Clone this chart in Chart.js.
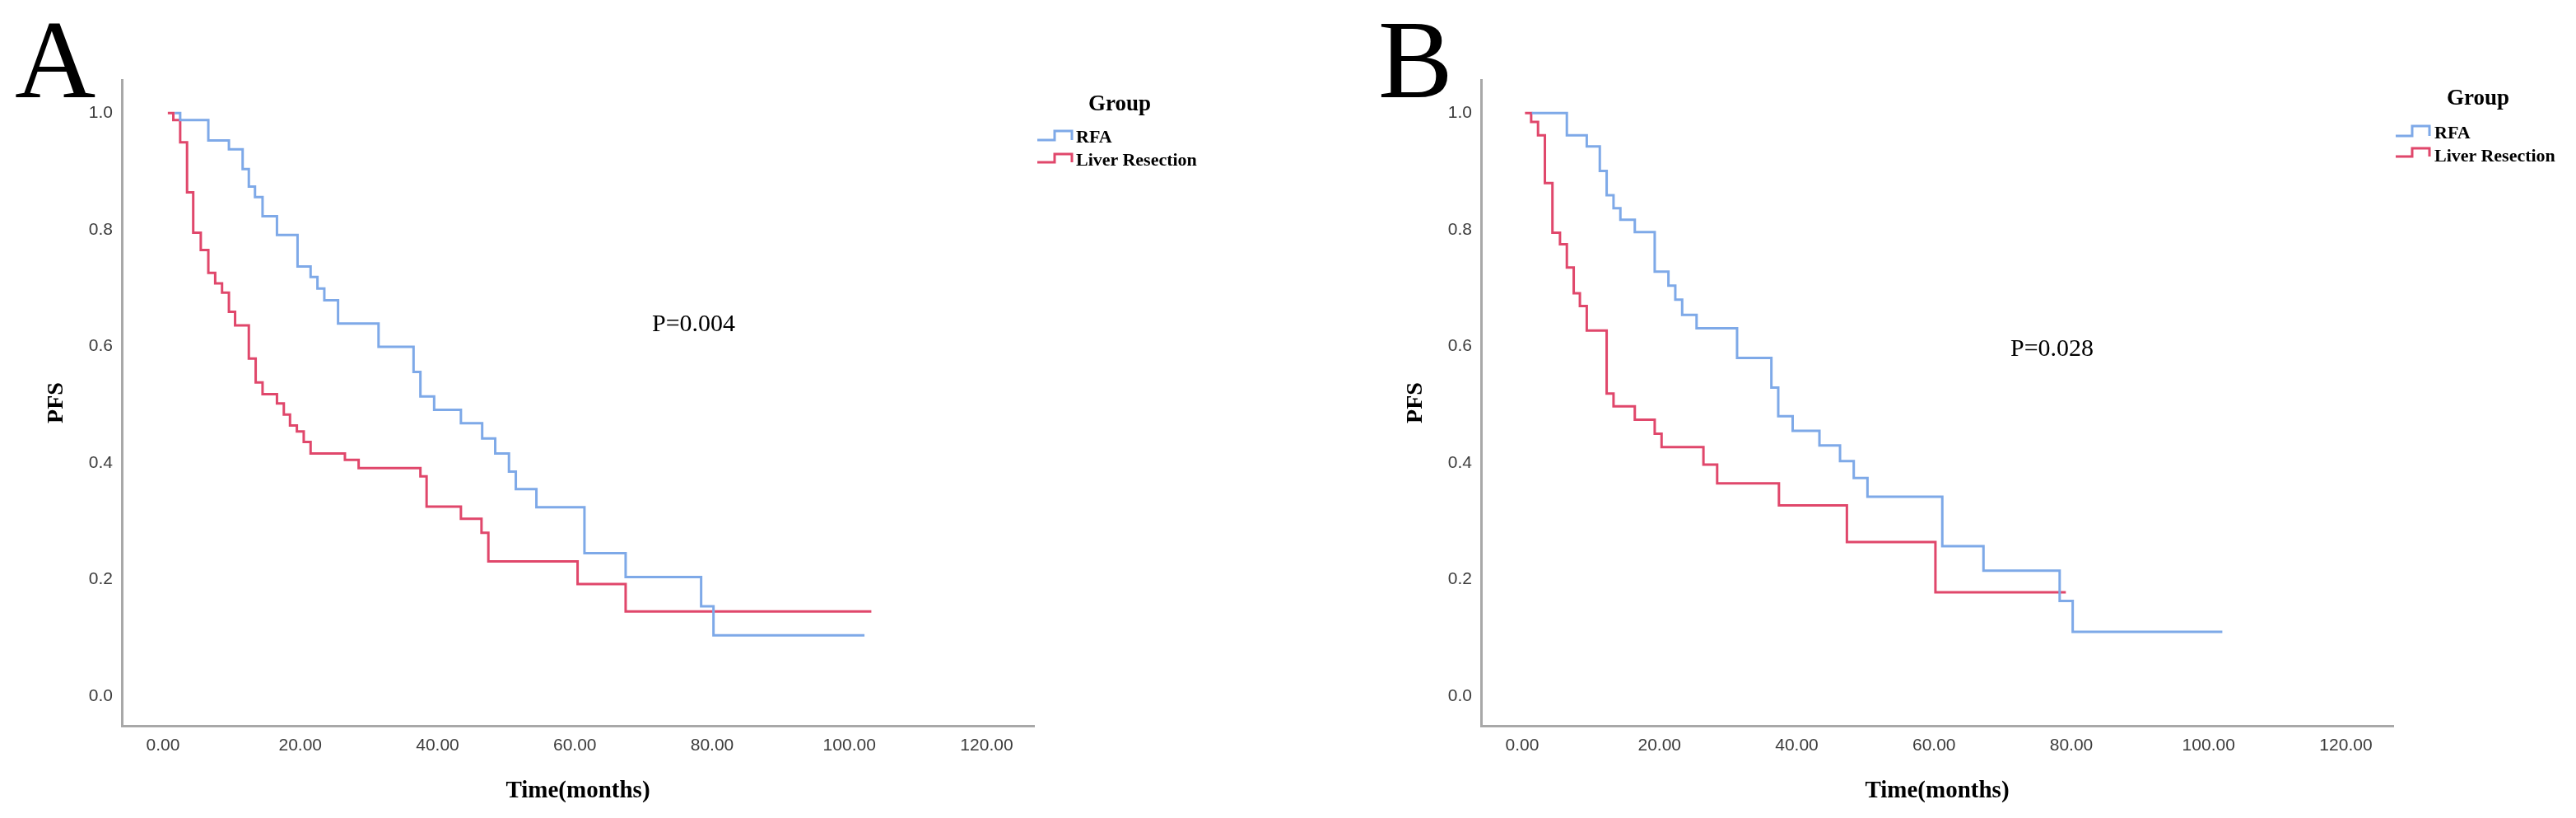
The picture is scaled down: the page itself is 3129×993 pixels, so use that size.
<!DOCTYPE html>
<html>
<head>
<meta charset="utf-8">
<title>PFS: RFA vs Liver Resection</title>
<script src="https://cdn.jsdelivr.net/npm/chart.js@4.4.1/dist/chart.umd.min.js"></script>
<style>
    html, body { margin: 0; padding: 0; background: #fff; }
    body { width: 3129px; height: 993px; position: relative; overflow: hidden; font-family: "Liberation Serif", "Times New Roman", serif; }
    .panel { position: absolute; top: 0; height: 993px; }
    .panel canvas { position: absolute; left: 0; top: 0; }
    .letter { position: absolute; font-size: 136px; line-height: 1; color: #000; }
    .pval { position: absolute; font-size: 30px; line-height: 1; color: #000; white-space: nowrap; }
    .lg-title { position: absolute; font-size: 27px; line-height: 1; font-weight: bold; color: #000; }
    .lg-item { position: absolute; font-size: 22px; line-height: 1; font-weight: bold; color: #000; white-space: nowrap; }
    svg.icons { position: absolute; left: 0; top: 0; width: 3129px; height: 993px; pointer-events: none; }
</style>
</head>
<body>

<div class="panel" style="left:0;width:1564px;"><canvas id="chartA" width="1564" height="993"></canvas></div>
<div class="panel" style="left:1651px;width:1478px;"><canvas id="chartB" width="1478" height="993"></canvas></div>

<div class="letter" style="left:18px;top:4px;">A</div>
<div class="letter" style="left:1674px;top:4px;">B</div>

<div class="pval" style="left:792px;top:377px;">P=0.004</div>
<div class="pval" style="left:2442px;top:407px;">P=0.028</div>

<div class="lg-title" style="left:1322px;top:112px;">Group</div>
<div class="lg-item" style="left:1307px;top:155px;">RFA</div>
<div class="lg-item" style="left:1307px;top:183px;">Liver Resection</div>

<div class="lg-title" style="left:2972px;top:105px;">Group</div>
<div class="lg-item" style="left:2957px;top:150px;">RFA</div>
<div class="lg-item" style="left:2957px;top:178px;">Liver Resection</div>

<svg class="icons" xmlns="http://www.w3.org/2000/svg">
    <polyline points="1260,170 1281,170 1281,159 1302,159 1302,170" fill="none" stroke="#7ea9e8" stroke-width="3"/>
    <polyline points="1260,197 1281,197 1281,187 1302,187 1302,197" fill="none" stroke="#e0476b" stroke-width="3"/>
    <polyline points="2910,165 2930,165 2930,153 2951,153 2951,165" fill="none" stroke="#7ea9e8" stroke-width="3"/>
    <polyline points="2910,190 2930,190 2930,180 2951,180 2951,190" fill="none" stroke="#e0476b" stroke-width="3"/>
</svg>

<script>
// Panel A - time (months) at each step and PFS after the step
const rfaA_time = [1.7, 2.5, 6.6, 9.6, 11.6, 12.5, 13.4, 14.5, 16.6, 19.6, 21.5, 22.5, 23.5, 25.5, 31.4, 36.5, 37.5, 39.5, 43.4, 46.5, 48.4, 50.4, 51.4, 54.4, 61.4, 67.4, 78.4, 80.2, 102.2];
const rfaA_pfs  = [1.0, 0.988, 0.953, 0.938, 0.904, 0.874, 0.856, 0.823, 0.791, 0.737, 0.719, 0.699, 0.679, 0.639, 0.599, 0.556, 0.514, 0.491, 0.468, 0.442, 0.416, 0.385, 0.355, 0.324, 0.245, 0.204, 0.154, 0.104, 0.104];

const lrA_time = [0.7, 1.5, 2.5, 3.5, 4.4, 5.5, 6.6, 7.6, 8.6, 9.6, 10.5, 12.5, 13.5, 14.5, 16.6, 17.6, 18.5, 19.5, 20.5, 21.5, 26.5, 28.5, 37.5, 38.4, 43.4, 46.4, 47.4, 60.4, 67.4, 103.2];
const lrA_pfs  = [1.0, 0.988, 0.950, 0.864, 0.795, 0.765, 0.726, 0.708, 0.692, 0.659, 0.636, 0.579, 0.538, 0.518, 0.502, 0.483, 0.464, 0.454, 0.436, 0.416, 0.405, 0.391, 0.377, 0.325, 0.304, 0.280, 0.231, 0.192, 0.145, 0.145];

// Panel B
const rfaB_time = [1.4, 6.5, 9.4, 11.3, 12.3, 13.3, 14.3, 16.4, 19.3, 21.3, 22.3, 23.3, 25.4, 31.3, 36.3, 37.3, 39.4, 43.3, 46.3, 48.3, 50.3, 61.2, 67.2, 78.3, 80.2, 102.0];
const rfaB_pfs  = [1.0, 0.962, 0.943, 0.901, 0.859, 0.837, 0.817, 0.796, 0.728, 0.704, 0.680, 0.654, 0.631, 0.580, 0.529, 0.480, 0.455, 0.430, 0.403, 0.374, 0.342, 0.257, 0.215, 0.163, 0.110, 0.110];

const lrB_time = [0.4, 1.3, 2.3, 3.3, 4.4, 5.5, 6.5, 7.5, 8.4, 9.4, 12.3, 13.3, 16.4, 19.3, 20.3, 26.4, 28.4, 37.4, 47.3, 60.2, 79.2];
const lrB_pfs  = [1.0, 0.985, 0.962, 0.880, 0.795, 0.775, 0.735, 0.691, 0.669, 0.627, 0.519, 0.497, 0.474, 0.450, 0.427, 0.397, 0.365, 0.327, 0.264, 0.178, 0.178];

const xTicks = [0, 20, 40, 60, 80, 100, 120];
const yTicks = [0, 0.2, 0.4, 0.6, 0.8, 1.0];

const BLUE = '#7ea9e8';
const RED = '#e0476b';
const AXIS = '#a8a8a8';

function toPoints(times, values) {
    return times.map((t, i) => ({ x: t, y: values[i] }));
}

function makeChart(canvasId, rfaT, rfaS, lrT, lrS) {
    const canvas = document.getElementById(canvasId);
    const rightPad = canvas.width - 1256;
    return new Chart(canvas, {
        type: 'line',
        data: {
            datasets: [
                { label: 'RFA', data: toPoints(rfaT, rfaS), borderColor: BLUE, borderWidth: 3, stepped: 'before', pointRadius: 0, fill: false },
                { label: 'Liver Resection', data: toPoints(lrT, lrS), borderColor: RED, borderWidth: 3, stepped: 'before', pointRadius: 0, fill: false }
            ]
        },
        options: {
            responsive: false,
            animation: false,
            devicePixelRatio: 1,
            layout: { padding: { left: 0, top: 97, right: rightPad, bottom: 0 } },
            plugins: { legend: { display: false }, tooltip: { enabled: false } },
            scales: {
                x: {
                    type: 'linear',
                    min: -6,
                    max: 126.9,
                    afterFit: s => { s.height = 112; },
                    afterBuildTicks: s => { s.ticks = xTicks.map(v => ({ value: v })); },
                    grid: { display: false, drawTicks: false },
                    border: { display: true, color: AXIS, width: 3 },
                    ticks: {
                        padding: 12,
                        color: '#3c3c3c',
                        font: { family: 'Liberation Sans', size: 21 },
                        maxRotation: 0,
                        autoSkip: false,
                        callback: v => Number(v).toFixed(2)
                    },
                    title: {
                        display: true,
                        text: 'Time(months)',
                        color: '#000',
                        font: { family: 'Liberation Serif', size: 29, weight: 'bold' },
                        padding: { top: 0, bottom: 15 }
                    }
                },
                y: {
                    type: 'linear',
                    min: -0.051,
                    max: 1.057,
                    afterFit: s => { s.width = 148; },
                    afterBuildTicks: s => { s.ticks = yTicks.map(v => ({ value: v })); },
                    grid: { display: false, drawTicks: false },
                    border: { display: true, color: AXIS, width: 3 },
                    ticks: {
                        padding: 11,
                        color: '#3c3c3c',
                        font: { family: 'Liberation Sans', size: 21 },
                        callback: v => Number(v).toFixed(1)
                    },
                    title: {
                        display: true,
                        text: 'PFS',
                        color: '#000',
                        font: { family: 'Liberation Serif', size: 28, weight: 'bold' },
                        padding: { top: 52, bottom: 0 }
                    }
                }
            }
        }
    });
}

makeChart('chartA', rfaA_time, rfaA_pfs, lrA_time, lrA_pfs);
makeChart('chartB', rfaB_time, rfaB_pfs, lrB_time, lrB_pfs);
</script>
</body>
</html>
